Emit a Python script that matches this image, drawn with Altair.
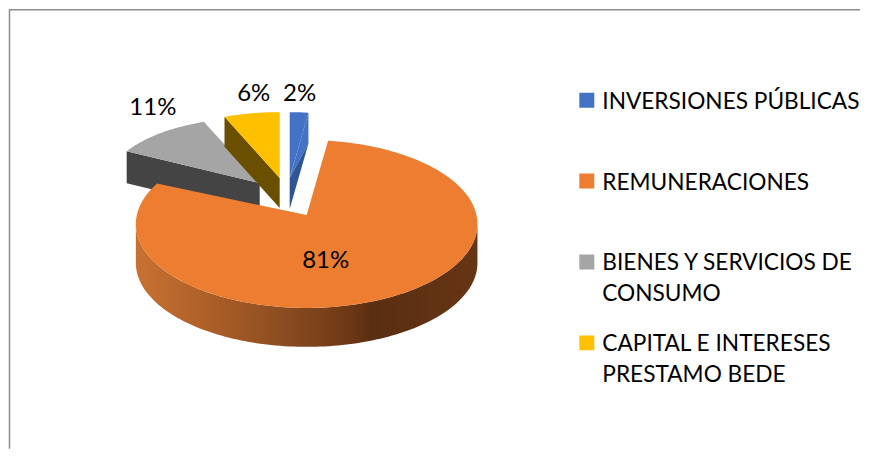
import math
import altair as alt

# ---- chart values ----
categories = ["INVERSIONES PÚBLICAS", "REMUNERACIONES", "BIENES Y SERVICIOS DE CONSUMO", "CAPITAL E INTERESES PRESTAMO BEDE"]
shares = [2, 81, 11, 6]
percent_labels = ["2%", "81%", "11%", "6%"]
top_colors = ["#4472C4", "#ED7D31", "#A5A5A5", "#FFC000"]
side_colors = ["#2F5597", "#9E5A26", "#444444", "#6B4F00"]
legend_lines = [["INVERSIONES PÚBLICAS"], ["REMUNERACIONES"], ["BIENES Y SERVICIOS DE", "CONSUMO"], ["CAPITAL E INTERESES", "PRESTAMO BEDE"]]

# ---- layout of the tilted, exploded pie (page pixels) ----
M = 8
FONT = "Lato"
apex = [(290, 178), (307, 215), (260, 183), (280, 178)]
centre = [(290, 178), (307, 224), (260, 183), (280, 178)]
radii = [(150, 66), (171, 84), (152, 66), (150, 66)]
depth = [31, 39, 32, 30]
label_pos = [(300, 93.5), (326, 261.5), (153, 107.5), (254, 93.5)]


def rim(i, angle, drop=0):
    cx, cy = centre[i]
    rx, ry = radii[i]
    a = math.radians(angle)
    return [cx + rx * math.sin(a) - M, cy - ry * math.cos(a) + drop - M]


def pt(x, y):
    return [x - M, y - M]


def feature(coords, part):
    return {
        "type": "Feature",
        "properties": {"part": part},
        "geometry": {"type": "Polygon", "coordinates": [coords + [coords[0]]]},
    }


def sweep(a, b, i, drop=0):
    n = max(2, int(abs(b - a) / 1.5))
    return [rim(i, a + (b - a) * k / n, drop) for k in range(n + 1)]


# Slice angles, clockwise from 12 o'clock, from the shares.
total = sum(shares)
a0 = [0.0]
for s in shares:
    a0.append(a0[-1] + 360 * s / total)

features = []
order = [2, 3, 0]
for i in order:
    ax, ay = apex[i]
    A = pt(ax, ay)
    Ad = pt(ax, ay + depth[i])
    if i == 0:
        edge = rim(i, a0[1])
        edge_d = rim(i, a0[1], depth[i])
        # the cut wall of the blue slice: lit part, then shaded part
        features.append(feature([edge, edge_d, A], "top0"))
        features.append(feature([edge_d, Ad, A], "side0"))
        features.append(feature([A] + sweep(a0[0], a0[1], i), "top0"))
    else:
        edge = rim(i, a0[i])
        edge_d = rim(i, a0[i], depth[i])
        features.append(feature([edge, edge_d, Ad, A], f"side{i}"))
        features.append(feature([A] + sweep(a0[i], a0[i + 1], i), f"top{i}"))

orange_side = [feature(sweep(270, 90, 1) + sweep(90, 270, 1, depth[1]), "side1")]
ax, ay = apex[1]
orange_top = [feature([pt(ax, ay)] + sweep(a0[1], a0[2], 1), "top1")]

parts = [f"top{i}" for i in range(4)] + [f"side{i}" for i in range(4)]
part_colors = top_colors + side_colors

projection = dict(type="identity", scale=1, translate=[0, 0])
color = alt.Color("properties.part:N", scale=alt.Scale(domain=parts, range=part_colors), legend=None)

slices = alt.Chart(alt.Data(values=features)).mark_geoshape(strokeWidth=0).encode(color=color).project(**projection)
gradient = {
    "gradient": "linear", "x1": 0, "y1": 0, "x2": 1, "y2": 0,
    "stops": [
        {"offset": 0, "color": "#C87232"},
        {"offset": 0.25, "color": "#A85C27"},
        {"offset": 0.44, "color": "#8A4C20"},
        {"offset": 0.63, "color": "#6C3715"},
        {"offset": 0.69, "color": "#5A2E11"},
        {"offset": 1, "color": "#663514"},
    ],
}
side = alt.Chart(alt.Data(values=orange_side)).mark_geoshape(strokeWidth=0, fill=gradient).project(**projection)
top = alt.Chart(alt.Data(values=orange_top)).mark_geoshape(strokeWidth=0, fill=top_colors[1]).project(**projection)

# Percent labels
label_rows = [{"t": t, "lon": x - M, "lat": y - M} for t, (x, y) in zip(percent_labels, label_pos)]
labels = alt.Chart(alt.Data(values=label_rows)).mark_text(font=FONT, fontSize=24, color="#000000", align="center", baseline="middle").encode(
    longitude="lon:Q", latitude="lat:Q", text="t:N"
).project(**projection)

# Legend, line by line
key_rows = []
text_rows = []
for i, lines in enumerate(legend_lines):
    y = 100 + 81 * i
    key_rows.append({"lon": 587.5 - M, "lat": y - M, "c": categories[i]})
    for j, line in enumerate(lines):
        text_rows.append({"lon": 603 - M, "lat": y + 31 * j + 1.5 - M, "t": line})
keys = alt.Chart(alt.Data(values=key_rows)).mark_square(size=225, opacity=1, strokeWidth=0).encode(
    longitude="lon:Q", latitude="lat:Q",
    color=alt.Color("c:N", scale=alt.Scale(domain=categories, range=top_colors), legend=None),
).project(**projection)
key_text = alt.Chart(alt.Data(values=text_rows)).mark_text(font=FONT, fontSize=22.7, color="#000000", align="left", baseline="middle").encode(
    longitude="lon:Q", latitude="lat:Q", text="t:N"
).project(**projection)

# Chart frame: top and left edges only
frame_top = alt.Chart(alt.Data(values=[{"a": 0}])).mark_rule(color="#8C8C8C", strokeWidth=1.5).encode(
    x=alt.value(1), x2=alt.value(853), y=alt.value(1.5)
)
frame_left = alt.Chart(alt.Data(values=[{"a": 0}])).mark_rule(color="#8C8C8C", strokeWidth=1.5).encode(
    x=alt.value(1.5), y=alt.value(1), y2=alt.value(441)
)

chart = alt.layer(frame_top, frame_left, slices, side, top, labels, keys, key_text).resolve_scale(color="independent").properties(
    width=853, height=441, padding=0, background="#FFFFFF"
).configure_view(stroke=None)

chart.save("out.html", embed_options={"renderer": "svg", "actions": False})
